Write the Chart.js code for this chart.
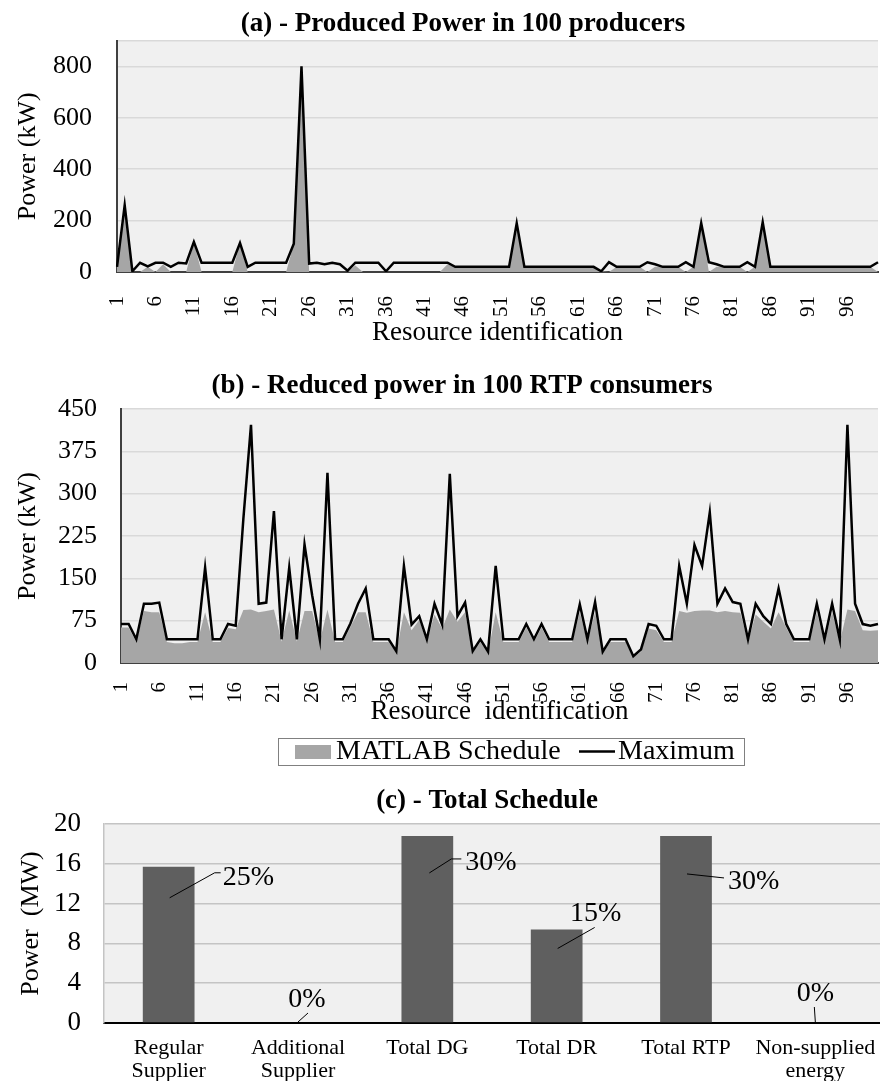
<!DOCTYPE html>
<html>
<head>
<meta charset="utf-8">
<script src="https://cdn.jsdelivr.net/npm/chart.js@4.4.1/dist/chart.umd.min.js"></script>
<style>
  html, body { margin: 0; padding: 0; background: #fff; }
  #wrap { position: relative; width: 880px; height: 1081px; }
  canvas { position: absolute; left: 0; }
</style>
</head>
<body>
<div id="wrap">
  <canvas id="chartA" width="880" height="350" style="top:0px"></canvas>
  <canvas id="chartB" width="880" height="425" style="top:350px"></canvas>
  <canvas id="chartC" width="880" height="306" style="top:775px"></canvas>
</div>
<script>
// resource ids 1..100 (category labels)
const resourceIds = Array.from({ length: 100 }, (_, i) => String(i + 1));

// (a) produced power, kW
const producedMaximum = [
  20, 260, 3, 36, 22, 36, 36, 20, 36, 33,
  117, 36, 36, 36, 36, 36, 113, 20, 36, 36,
  36, 36, 36, 110, 800, 33, 36, 30, 36, 30,
  5, 36, 36, 36, 36, 3, 36, 36, 36, 36,
  36, 36, 36, 36, 20, 20, 20, 20, 20, 20,
  20, 20, 190, 20, 20, 20, 20, 20, 20, 20,
  20, 20, 20, 3, 38, 20, 20, 20, 20, 38,
  30, 20, 20, 20, 38, 20, 190, 38, 30, 20,
  20, 20, 38, 20, 194, 20, 20, 20, 20, 20,
  20, 20, 20, 20, 20, 20, 20, 20, 20, 38
];
const producedSchedule = [
  20, 260, 0, 0, 20, 0, 30, 0, 0, 0,
  117, 0, 0, 0, 0, 0, 113, 0, 0, 0,
  0, 0, 0, 110, 800, 0, 0, 0, 0, 0,
  0, 25, 0, 0, 0, 0, 0, 0, 0, 0,
  0, 0, 0, 30, 20, 20, 20, 20, 20, 20,
  20, 20, 190, 20, 20, 20, 20, 20, 20, 20,
  20, 20, 20, 3, 0, 20, 20, 20, 20, 0,
  20, 20, 20, 20, 0, 20, 190, 0, 20, 20,
  20, 20, 0, 20, 194, 20, 20, 20, 20, 20,
  20, 20, 20, 20, 20, 20, 20, 20, 20, 0
];
const producedTicks = [0, 200, 400, 600, 800, 900];

// (b) reduced power in RTP consumers, kW
const rtpMaximum = [
  69, 69, 42, 105, 105, 107, 42, 42, 42, 42,
  42, 169, 42, 42, 69, 66, 255, 422, 105, 107,
  269, 42, 169, 42, 210, 120, 42, 337, 42, 42,
  70, 105, 132, 42, 42, 42, 21, 172, 68, 83,
  42, 105, 68, 335, 83, 107, 21, 42, 20, 172,
  42, 42, 42, 69, 42, 69, 42, 42, 42, 42,
  104, 42, 108, 20, 42, 42, 42, 12, 24, 69,
  66, 42, 42, 172, 105, 209, 172, 267, 105, 132,
  108, 105, 42, 105, 83, 69, 132, 69, 42, 42,
  42, 105, 42, 105, 42, 422, 105, 69, 66, 69
];
const rtpSchedule = [
  63, 63, 37, 92, 90, 90, 37, 35, 35, 37,
  37, 90, 37, 37, 62, 60, 94, 95, 90, 92,
  95, 38, 93, 38, 92, 92, 38, 95, 37, 37,
  64, 90, 90, 37, 37, 37, 18, 90, 58, 76,
  38, 86, 61, 95, 73, 90, 18, 37, 17, 90,
  37, 37, 37, 63, 37, 63, 37, 37, 37, 37,
  90, 37, 90, 17, 37, 37, 37, 10, 20, 61,
  58, 37, 37, 92, 89, 92, 93, 93, 90, 92,
  90, 89, 37, 86, 73, 61, 90, 63, 37, 37,
  37, 90, 37, 90, 37, 95, 92, 58, 57, 58
];
const rtpTicks = [0, 75, 150, 225, 300, 375, 450];

// (c) total schedule, MW
const scheduleCategories = [
  ['Regular', 'Supplier'], ['Additional', 'Supplier'], 'Total DG',
  'Total DR', 'Total RTP', ['Non-supplied', 'energy']
];
const scheduleTotals = [15.7, 0, 18.8, 9.4, 18.8, 0];
const scheduleShares = ['25%', '0%', '30%', '15%', '30%', '0%'];
const totalTicks = [0, 4, 8, 12, 16, 20];

const SERIF = "'Liberation Serif', 'Times New Roman', serif";
Chart.defaults.font.family = SERIF;
Chart.defaults.color = '#000';
Chart.defaults.animation = false;

// light grey plot area
const plotBg = {
  id: 'plotBg',
  beforeDraw(chart) {
    const { ctx, chartArea: a } = chart;
    ctx.save();
    ctx.fillStyle = '#f0f0f0';
    ctx.fillRect(a.left, a.top, a.right - a.left, a.bottom - a.top);
    ctx.restore();
  }
};

// bold panel titles, placed like the original
const panelTitle = {
  id: 'panelTitle',
  afterDraw(chart, args, opts) {
    const ctx = chart.ctx;
    ctx.save();
    ctx.font = 'bold 27px ' + SERIF;
    ctx.fillStyle = '#000';
    ctx.textAlign = 'center';
    ctx.textBaseline = 'middle';
    ctx.fillText(opts.text, opts.x, opts.y);
    ctx.restore();
  }
};

// boxed legend under chart (b)
const boxLegend = {
  id: 'boxLegend',
  afterDraw(chart) {
    const ctx = chart.ctx;
    const ds = chart.data.datasets;
    const sched = ds.find(d => d.fill);
    const maxi = ds.find(d => !d.fill);
    const y = 401.5;
    ctx.save();
    ctx.strokeStyle = '#808080';
    ctx.lineWidth = 1;
    ctx.strokeRect(278.5, 388.5, 466, 27);
    ctx.fillStyle = sched.backgroundColor;
    ctx.fillRect(295, 395, 36, 14);
    ctx.font = '28px ' + SERIF;
    ctx.fillStyle = '#000';
    ctx.textBaseline = 'middle';
    ctx.fillText(sched.label, 336, y);
    ctx.strokeStyle = maxi.borderColor;
    ctx.lineWidth = 2.5;
    ctx.beginPath();
    ctx.moveTo(579, y);
    ctx.lineTo(615, y);
    ctx.stroke();
    ctx.fillText(maxi.label, 618, y);
    ctx.restore();
  }
};

// percentage labels with leader lines on the bars
const sharePlacement = [
  { line: [[1, 31], [46, 6], [52, 6]], at: [54, 11], align: 'left' },
  { line: [[0, -1], [10, -10]], at: [9, -23], align: 'center' },
  { line: [[2, 37], [24, 23], [34, 23]], at: [38, 27], align: 'left' },
  { line: [[1, 19], [38, -2]], at: [39, -16], align: 'center' },
  { line: [[1, 38], [38, 42]], at: [42, 46], align: 'left' },
  { line: [[-1, -16], [0, -1]], at: [0, -29], align: 'center' }
];
const shareLabels = {
  id: 'shareLabels',
  afterDatasetsDraw(chart) {
    const ctx = chart.ctx;
    const meta = chart.getDatasetMeta(0);
    ctx.save();
    ctx.font = '28px ' + SERIF;
    ctx.fillStyle = '#000';
    ctx.strokeStyle = '#000';
    ctx.lineWidth = 1;
    ctx.textBaseline = 'middle';
    meta.data.forEach((bar, i) => {
      const p = sharePlacement[i];
      const x0 = bar.x, y0 = bar.y;
      ctx.beginPath();
      p.line.forEach(([dx, dy], k) => {
        if (k === 0) ctx.moveTo(x0 + dx, y0 + dy); else ctx.lineTo(x0 + dx, y0 + dy);
      });
      ctx.stroke();
      ctx.textAlign = p.align;
      ctx.fillText(scheduleShares[i], x0 + p.at[0], y0 + p.at[1]);
    });
    ctx.restore();
  }
};

function fixedTicks(values) {
  return scale => { scale.ticks = values.map(v => ({ value: v })); };
}

function everyFifth(value, index) {
  return index % 5 === 0 ? resourceIds[index] : '';
}

// x axis with fixed height and no extra side padding from the labels
function xFit(h) {
  return s => { s.height = h; s.paddingLeft = 0; s.paddingRight = 0; };
}

// ---- (a) ----
new Chart(document.getElementById('chartA'), {
  type: 'line',
  data: {
    labels: resourceIds,
    datasets: [
      {
        label: 'MATLAB Schedule',
        data: producedSchedule,
        fill: 'origin',
        backgroundColor: '#a6a6a6',
        borderWidth: 0,
        pointRadius: 0,
        order: 1
      },
      {
        label: 'Maximum',
        data: producedMaximum,
        fill: false,
        borderColor: '#000',
        borderWidth: 2.5,
        pointRadius: 0,
        order: 0
      }
    ]
  },
  options: {
    responsive: false,
    layout: { autoPadding: false, padding: { top: 37, left: 0, right: 2, bottom: 0 } },
    plugins: {
      legend: { display: false },
      tooltip: { enabled: false },
      panelTitle: { text: '(a) - Produced Power in 100 producers', x: 463, y: 24 }
    },
    scales: {
      x: {
        z: 1,
        grid: { display: false },
        border: { color: '#404040', width: 2 },
        ticks: { autoSkip: false, minRotation: 90, maxRotation: 90, padding: 16,
                 font: { size: 21 }, callback: everyFifth },
        title: { display: true, text: 'Resource identification', font: { size: 27 },
                 padding: { top: 0, bottom: 1 } },
        afterFit: xFit(78)
      },
      y: {
        min: 0,
        max: 900,
        afterBuildTicks: fixedTicks(producedTicks),
        grid: { color: '#d9d9d9', lineWidth: 1.5, drawTicks: false },
        border: { color: '#404040', width: 2 },
        ticks: { padding: 25, font: { size: 26 }, callback: v => (v === 900 ? '' : v) },
        title: { display: true, text: 'Power (kW)', font: { size: 26 }, padding: { top: 13, bottom: 0 } },
        afterFit: s => { s.width = 117; }
      }
    }
  },
  plugins: [plotBg, panelTitle]
});

// ---- (b) ----
new Chart(document.getElementById('chartB'), {
  type: 'line',
  data: {
    labels: resourceIds,
    datasets: [
      {
        label: 'MATLAB Schedule',
        data: rtpSchedule,
        fill: 'origin',
        backgroundColor: '#a6a6a6',
        borderWidth: 0,
        pointRadius: 0,
        order: 1
      },
      {
        label: 'Maximum',
        data: rtpMaximum,
        fill: false,
        borderColor: '#000',
        borderWidth: 2.5,
        pointRadius: 0,
        order: 0
      }
    ]
  },
  options: {
    responsive: false,
    layout: { autoPadding: false, padding: { top: 59, left: 0, right: 2, bottom: 43 } },
    plugins: {
      legend: { display: false },
      tooltip: { enabled: false },
      panelTitle: { text: '(b) - Reduced power in 100 RTP consumers', x: 462, y: 36 }
    },
    scales: {
      x: {
        z: 1,
        grid: { display: false },
        border: { color: '#404040', width: 2 },
        ticks: { autoSkip: false, minRotation: 90, maxRotation: 90, padding: 11,
                 font: { size: 21 }, callback: everyFifth },
        title: { display: true, text: 'Resource  identification', font: { size: 27 },
                 padding: { top: 0, bottom: 4 } },
        afterFit: xFit(69)
      },
      y: {
        min: 0,
        max: 450,
        afterBuildTicks: fixedTicks(rtpTicks),
        grid: { color: '#d9d9d9', lineWidth: 1.5, drawTicks: false },
        border: { color: '#404040', width: 2 },
        ticks: { padding: 24, font: { size: 26 } },
        title: { display: true, text: 'Power (kW)', font: { size: 26 }, padding: { top: 13, bottom: 0 } },
        afterFit: s => { s.width = 121; }
      }
    }
  },
  plugins: [plotBg, panelTitle, boxLegend]
});

// ---- (c) ----
new Chart(document.getElementById('chartC'), {
  type: 'bar',
  data: {
    labels: scheduleCategories,
    datasets: [{
      label: 'Total Schedule',
      data: scheduleTotals,
      backgroundColor: '#5f5f5f',
      barPercentage: 0.4,
      categoryPercentage: 1
    }]
  },
  options: {
    responsive: false,
    layout: { autoPadding: false, padding: { top: 49, left: 0, right: 0, bottom: 0 } },
    plugins: {
      legend: { display: false },
      tooltip: { enabled: false },
      panelTitle: { text: '(c) - Total Schedule', x: 487, y: 26 }
    },
    scales: {
      x: {
        z: 1,
        grid: { display: false },
        border: { color: '#000', width: 2 },
        ticks: { maxRotation: 0, minRotation: 0, padding: 5.5,
                 font: { size: 22, lineHeight: 1.05 } },
        afterFit: xFit(58)
      },
      y: {
        min: 0,
        max: 20,
        afterBuildTicks: fixedTicks(totalTicks),
        grid: { color: '#c4c4c4', lineWidth: 1.5, drawTicks: false },
        border: { color: '#c4c4c4', width: 1.5 },
        ticks: { padding: 23, font: { size: 27 } },
        title: { display: true, text: 'Power  (MW)', font: { size: 26 }, padding: { top: 16, bottom: 0 } },
        afterFit: s => { s.width = 104; }
      }
    }
  },
  plugins: [plotBg, panelTitle, shareLabels]
});
</script>
</body>
</html>
